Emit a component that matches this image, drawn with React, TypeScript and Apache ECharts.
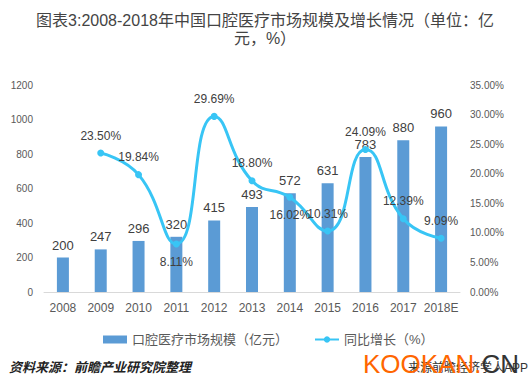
import React, { useEffect, useRef } from "react";
import * as echarts from "echarts";

const categories = ["2008", "2009", "2010", "2011", "2012", "2013", "2014", "2015", "2016", "2017", "2018E"];
const marketSize = [200, 247, 296, 320, 415, 493, 572, 631, 783, 880, 960];
const growth: (number | null)[] = [null, 23.5, 19.84, 8.11, 29.69, 18.8, 16.02, 10.31, 24.09, 12.39, 9.09];
const leftTicks = { min: 0, max: 1200, interval: 200 };
const rightTicks = { min: 0, max: 35, interval: 5 };
const growthLabelBelow = [false, false, false, true, false, false, true, false, false, false, false];
const titleLines = ["图表3:2008-2018年中国口腔医疗市场规模及增长情况（单位：亿", "元，%）"];

const FONT = '"Liberation Sans", "Noto Sans CJK SC", Arial, sans-serif';

export default function App() {
  const ref = useRef<HTMLDivElement>(null);
  useEffect(() => {
    document.body.style.margin = "0";
    const chart = echarts.init(ref.current!, null, { renderer: "svg" });
    chart.setOption({
      animation: false,
      backgroundColor: "#ffffff",
      textStyle: { fontFamily: FONT },
      legend: {
        left: 98,
        top: 328,
        itemGap: 26,
        itemWidth: 24,
        itemHeight: 8,
        textStyle: { fontSize: 13, color: "#595959", fontFamily: FONT },
        data: [
          { name: "口腔医疗市场规模（亿元）", icon: "rect" },
          { name: "同比增长（%）" },
        ],
      },
      grid: { left: 44, right: 70, top: 85, bottom: 95 },
      xAxis: {
        type: "category",
        data: categories,
        axisLine: { lineStyle: { color: "#D9D9D9", width: 1 } },
        axisTick: { show: false },
        axisLabel: { color: "#595959", fontSize: 12, margin: 10, interval: 0, fontFamily: FONT },
      },
      yAxis: [
        {
          type: "value",
          ...leftTicks,
          splitLine: { show: false },
          axisLine: { show: false },
          axisTick: { show: false },
          axisLabel: {
            color: "#595959",
            fontSize: 10,
            margin: 11,
            fontFamily: FONT,
            formatter: (v: number) => String(v),
          },
        },
        {
          type: "value",
          ...rightTicks,
          splitLine: { show: false },
          axisLine: { show: false },
          axisTick: { show: false },
          axisLabel: {
            color: "#595959",
            fontSize: 10,
            margin: 10,
            fontFamily: FONT,
            formatter: (v: number) => v.toFixed(2) + "%",
          },
        },
      ],
      series: [
        {
          name: "口腔医疗市场规模（亿元）",
          type: "bar",
          data: marketSize,
          barWidth: 12,
          itemStyle: { color: "#5B9BD5" },
          label: { show: true, position: "top", distance: 6, fontSize: 13, color: "#404040", fontFamily: FONT },
        },
        {
          name: "同比增长（%）",
          type: "line",
          yAxisIndex: 1,
          smooth: 0.5,
          data: growth.map((v, i) =>
            v === null
              ? "-"
              : {
                  value: v,
                  label: { position: growthLabelBelow[i] ? "bottom" : "top" },
                }
          ),
          symbol: "circle",
          symbolSize: 7,
          lineStyle: { color: "#38C5F5", width: 3 },
          itemStyle: { color: "#38C5F5" },
          label: {
            show: true,
            distance: 8,
            fontSize: 12,
            color: "#404040",
            fontFamily: FONT,
            formatter: (p: any) => Number(p.value).toFixed(2) + "%",
          },
        },
      ],
      graphic: [
        {
          type: "text",
          left: "center",
          top: 12,
          style: { text: titleLines[0], font: `normal 16px ${FONT}`, fill: "#444444" },
        },
        {
          type: "text",
          left: "center",
          top: 30,
          style: { text: titleLines[1], font: `normal 16px ${FONT}`, fill: "#444444" },
        },
        {
          type: "text",
          left: 9,
          top: 361,
          style: {
            text: "资料来源：前瞻产业研究院整理",
            font: `italic bold 13px ${FONT}`,
            fill: "#222222",
          },
        },
        {
          type: "text",
          right: 2,
          top: 362,
          style: {
            text: "来源前瞻经济学人APP",
            font: `12px ${FONT}`,
            fill: "#333333",
          },
        },
        {
          type: "text",
          left: 363,
          top: 351,
          style: {
            text: "{o|KOOKAN.}{d|CN}",
            rich: {
              o: { fontSize: 26, fill: "#FF6600", fontFamily: FONT },
              d: { fontSize: 26, fill: "#333333", fontFamily: FONT },
            },
          },
        },
      ],
    });
    return () => chart.dispose();
  }, []);
  return <div ref={ref} style={{ width: 530, height: 387 }} />;
}
